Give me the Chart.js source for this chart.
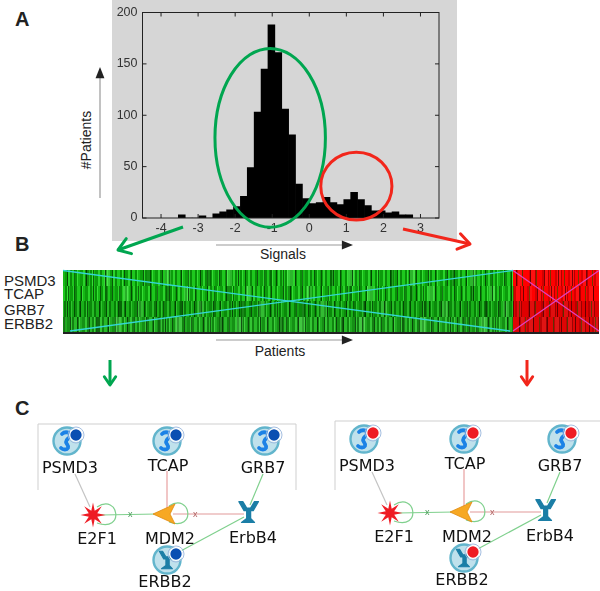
<!DOCTYPE html>
<html>
<head>
<meta charset="utf-8">
<script src="https://cdn.jsdelivr.net/npm/chart.js@4.4.1/dist/chart.umd.min.js"></script>
<style>
body{margin:0;width:600px;height:591px;position:relative;background:#fff;overflow:hidden;font-family:"Liberation Sans",Arial,sans-serif;color:#222}
.abs{position:absolute}
#frame{left:112px;top:0;width:345px;height:241px;background:#d6d6d6}
.letter{font-weight:bold;font-size:20px;color:#222}
.gene{font-size:15px;left:4px;line-height:15px}
#heat{left:63px;top:270px;width:536px;height:62px;border-bottom:2px solid #222}
.row{position:absolute;height:15.5px}
.g{left:0;width:450px}
.r{left:450px;width:86px}
.g{background:
 repeating-linear-gradient(90deg,transparent 0 4px,rgba(0,45,0,.75) 4px 5px,transparent 5px 11px,rgba(0,30,0,.55) 11px 12px,transparent 12px 19px),
 repeating-linear-gradient(90deg,transparent 0 23px,rgba(0,40,0,.35) 23px 26px,transparent 26px 41px,rgba(140,255,140,.25) 41px 47px,transparent 47px 61px),
 repeating-linear-gradient(90deg,#16b816 0 2px,#0c9c0c 2px 5px,#2bd42b 5px 7px,#0a8a0a 7px 9px,#1ec81e 9px 12px,#079107 12px 14px,#35df35 14px 15px)}
.r{background:
 repeating-linear-gradient(90deg,transparent 0 3px,rgba(60,0,0,.7) 3px 4px,transparent 4px 9px,rgba(30,90,0,.6) 9px 10px,transparent 10px 14px),
 repeating-linear-gradient(90deg,#ff0000 0 3px,#d40000 3px 5px,#ff1010 5px 9px,#b00000 9px 10px,#ff0000 10px 13px)}
.row1{top:0}.row2{top:15.5px;background-position:7px 0,19px 0,5px 0}
.row3{top:31px;background-position:13px 0,33px 0,9px 0;filter:brightness(.88)}
.row4{top:46.5px;background-position:3px 0,11px 0,2px 0;filter:brightness(.95) saturate(.9)}
.lbl{font-size:14px;color:#222}
</style>
</head>
<body>
<div class="abs letter" style="left:15px;top:8px">A</div>
<div class="abs letter" style="left:15px;top:233px">B</div>
<div class="abs letter" style="left:15px;top:397px">C</div>

<div id="frame" class="abs"><canvas id="hist"></canvas></div>

<div class="abs lbl" style="left:56px;top:132px;width:60px;text-align:center;transform:rotate(-90deg);transform-origin:30px 8px">#Patients</div>
<div class="abs lbl" style="left:243px;top:246px;width:80px;text-align:center">Signals</div>
<div class="abs lbl" style="left:240px;top:343px;width:80px;text-align:center">Patients</div>

<div class="abs gene" style="top:273px">PSMD3</div>
<div class="abs gene" style="top:286px">TCAP</div>
<div class="abs gene" style="top:302px">GRB7</div>
<div class="abs gene" style="top:316px">ERBB2</div>

<div id="heat" class="abs">
  <div class="row g row1"></div><div class="row g row2"></div><div class="row g row3"></div><div class="row g row4"></div>
  <div class="row r row1"></div><div class="row r row2"></div><div class="row r row3"></div><div class="row r row4"></div>
</div>

<svg id="over" class="abs" style="left:0;top:0" width="600" height="591"></svg>

<script>
// histogram of signals (bin centres, counts)
const binCenters = [-3.440, -3.254, -3.068, -2.882, -2.696, -2.510, -2.324, -2.138, -1.952, -1.766,
                    -1.580, -1.394, -1.208, -1.022, -0.836, -0.650, -0.464, -0.278, -0.092, 0.094,
                    0.280, 0.466, 0.652, 0.838, 1.024, 1.210, 1.396, 1.582, 1.768, 1.954,
                    2.140, 2.326, 2.512, 2.698];
const patientCounts = [3, 0, 0, 2, 0, 4, 6, 8, 11, 21,
                       49, 103, 145, 188, 161, 106, 81, 33, 19, 14,
                       15, 20, 15, 13, 18, 25, 18, 12, 7, 7,
                       5, 6, 3, 3];
const xTicks = [-4, -3, -2, -1, 0, 1, 2, 3];
const yTicks = [0, 50, 100, 150, 200];
// clusters circled on the histogram: [centre x, centre y, half width, half height] in data units
const greenCluster = [-1.055, 78, 1.49, 87];
const redCluster = [1.27, 31, 0.96, 33];

const boxPlugin = {
  id: 'box',
  afterDraw(chart) {
    const ctx = chart.ctx, a = chart.chartArea;
    const xs = chart.scales.x, ys = chart.scales.y;
    ctx.save();
    ctx.strokeStyle = '#222';
    ctx.lineWidth = 1;
    ctx.strokeRect(a.left, a.top, a.right - a.left, a.bottom - a.top);
    ctx.beginPath();
    xTicks.forEach(v => {
      const p = xs.getPixelForValue(v);
      ctx.moveTo(p, a.bottom); ctx.lineTo(p, a.bottom - 4);
      ctx.moveTo(p, a.top); ctx.lineTo(p, a.top + 4);
    });
    yTicks.forEach(v => {
      const p = ys.getPixelForValue(v);
      ctx.moveTo(a.left, p); ctx.lineTo(a.left + 4, p);
      ctx.moveTo(a.right, p); ctx.lineTo(a.right - 4, p);
    });
    ctx.stroke();
    const ring = (c, col) => {
      const cx = xs.getPixelForValue(c[0]), cy = ys.getPixelForValue(c[1]);
      const rx = xs.getPixelForValue(c[0] + c[2]) - cx;
      const ry = cy - ys.getPixelForValue(c[1] + c[3]);
      ctx.beginPath();
      ctx.ellipse(cx, cy, rx, ry, 0, 0, Math.PI * 2);
      ctx.strokeStyle = col;
      ctx.lineWidth = 3;
      ctx.stroke();
    };
    ring(greenCluster, '#00a650');
    ring(redCluster, '#f2261b');
    ctx.restore();
  }
};

new Chart(document.getElementById('hist'), {
  type: 'bar',
  data: {
    datasets: [{
      data: binCenters.map((x, i) => ({x: x, y: patientCounts[i]})),
      backgroundColor: '#000',
      borderWidth: 0,
      barPercentage: 1,
      categoryPercentage: 1
    }]
  },
  options: {
    responsive: true,
    maintainAspectRatio: false,
    animation: false,
    layout: {padding: {top: 12, right: 18, left: 0, bottom: 0}},
    plugins: {legend: {display: false}, tooltip: {enabled: false}},
    scales: {
      x: {
        type: 'linear', min: -4, max: 3,
        afterBuildTicks: s => { s.ticks = xTicks.map(v => ({value: v})); },
        afterFit: s => { s.height = 23; },
        grid: {display: false, drawTicks: false}, border: {display: false},
        ticks: {color: '#333', font: {size: 12.5, family: 'Liberation Sans'}, padding: 3, maxRotation: 0}
      },
      y: {
        min: 0, max: 200,
        afterBuildTicks: s => { s.ticks = yTicks.map(v => ({value: v})); },
        afterFit: s => { s.width = 30.5; },
        grid: {display: false, drawTicks: false}, border: {display: false},
        ticks: {color: '#333', font: {size: 12.5, family: 'Liberation Sans'}, padding: 5}
      }
    }
  },
  plugins: [boxPlugin]
});

// overlay: arrows, heatmap crosses, networks
const svg = document.getElementById('over');
let s = '';
const line = (x1, y1, x2, y2, col, w) =>
  `<line x1="${x1}" y1="${y1}" x2="${x2}" y2="${y2}" stroke="${col}" stroke-width="${w}"/>`;
function chevron(x1, y1, x2, y2, col, w, len) {
  const a = Math.atan2(y2 - y1, x2 - x1), d = 0.6;
  const p1 = [x2 - len * Math.cos(a - d), y2 - len * Math.sin(a - d)];
  const p2 = [x2 - len * Math.cos(a + d), y2 - len * Math.sin(a + d)];
  return line(x1, y1, x2, y2, col, w) +
    `<polyline points="${p1} ${x2},${y2} ${p2}" fill="none" stroke="${col}" stroke-width="${w}" stroke-linecap="round" stroke-linejoin="round"/>`;
}
function pointer(x1, y1, x2, y2) {
  const a = Math.atan2(y2 - y1, x2 - x1), L = 12, d = 0.38;
  const p1 = [x2 - L * Math.cos(a - d), y2 - L * Math.sin(a - d)];
  const p2 = [x2 - L * Math.cos(a + d), y2 - L * Math.sin(a + d)];
  return line(x1, y1, x2 - 8 * Math.cos(a), y2 - 8 * Math.sin(a), '#999', 1.2) +
    `<polygon points="${p1} ${x2},${y2} ${p2}" fill="#222"/>`;
}
s += pointer(100, 198, 100, 67);
s += pointer(216, 245, 353, 245);
s += pointer(216, 340, 353, 340);
s += chevron(183, 227, 118, 250, '#00a650', 3, 14);
s += chevron(403, 229, 470, 244, '#f2261b', 3, 14);
s += chevron(110, 360, 110, 385, '#00a650', 3, 10);
s += chevron(527, 360, 527, 385, '#f2261b', 3, 10);

// heatmap crosses
s += line(63, 270.5, 510, 331, '#33d6d6', 1.3) + line(70, 331, 513, 270.5, '#33d6d6', 1.3);
s += line(513, 270.5, 599, 331, '#e040c0', 1.3) + line(513, 331, 599, 270.5, '#e040c0', 1.3);

function dotMark(x, y, dot) {
  return `<circle cx="${x+9}" cy="${y-6}" r="8" fill="none" stroke="#9ab7dc" stroke-width="0.9"/>` +
    `<circle cx="${x+9}" cy="${y-6}" r="6.3" fill="${dot}" stroke="#fff" stroke-width="1.3"/>`;
}
function protein(x, y, dot) {
  return `<circle cx="${x}" cy="${y}" r="13.5" fill="#bfe1ec" stroke="#62b5cc" stroke-width="2.4"/>` +
    `<path d="M${x-5},${y-7} c3,-3 9,-2 8,2 c-1,3 -4,3 -4,6 c0,2 3,3 2,6 c-1,2 -5,2 -7,0" fill="none" stroke="#1c82e6" stroke-width="3.8" stroke-linecap="round" stroke-linejoin="round"/>` +
    dotMark(x, y, dot);
}
function receptor(x, y, col, k) {
  return `<g transform="translate(${x},${y}) scale(${k})"><path d="M-7,-8 l4,7 l2,0 l0,6 l-4,3 l10,0 l-3,-3 l0,-6 l2,0 l4,-7 l-3,0 l-3,5 l-3,0 l-3,-5 z" fill="${col}" stroke="${col}" stroke-width="1" stroke-linejoin="round"/></g>`;
}
function star(x, y) {
  let p = [];
  for (let i = 0; i < 16; i++) {
    const r = i % 2 ? 4.5 : 12.5, a = i * Math.PI / 8 - Math.PI / 2;
    p.push((x + r * Math.cos(a)).toFixed(1) + ',' + (y + r * Math.sin(a)).toFixed(1));
  }
  return `<polygon points="${p.join(' ')}" fill="#ee1c24"/>`;
}
function text(x, y, t) {
  return `<text x="${x}" y="${y}" text-anchor="middle" font-family="DejaVu Sans" font-size="16" fill="#111">${t}</text>`;
}
function network(dx, dy, dot, boxRight, boxTop) {
  const P = (x, y) => [x + dx, y + dy];
  const [ps, tc, gr, e2, md, eb, er] =
    [P(67, 441), P(167, 441), P(265, 441), P(93, 515), P(165, 514), P(248, 512), P(167, 560)];
  let o = '';
  o += line(dx + 38, boxTop, boxRight, boxTop, '#cfcfcf', 1) + line(dx + 38, boxTop, dx + 38, 490, '#cfcfcf', 1);
  if (boxRight < 600) o += line(boxRight, boxTop, boxRight, 490, '#cfcfcf', 1);
  o += line(ps[0] + 8, ps[1] + 33, e2[0] - 3, e2[1] - 8, '#c4c4c4', 1.2);
  o += line(tc[0], tc[1] + 30, md[0] + 2, md[1] - 6, '#e8a0a0', 1.2);
  o += line(gr[0] - 2, gr[1] + 33, eb[0] + 2, eb[1] - 7, '#7fd08d', 1.2);
  o += line(eb[0] - 4, eb[1] + 2, md[0] + 8, md[1], '#e19a9a', 1.2);
  o += line(md[0] - 8, md[1], e2[0] + 8, e2[1], '#7fd08d', 1.2);
  o += line(er[0] + 10, er[1] - 7, eb[0] - 4, eb[1] + 5, '#7fd08d', 1.2);
  o += `<path d="M${e2[0]+4},${e2[1]-8} C${e2[0]+26},${e2[1]-22} ${e2[0]+32},${e2[1]+18} ${e2[0]+4},${e2[1]+8}" fill="none" stroke="#7fd08d" stroke-width="1.2"/>`;
  o += `<path d="M${md[0]+4},${md[1]-8} C${md[0]+26},${md[1]-22} ${md[0]+32},${md[1]+18} ${md[0]+4},${md[1]+8}" fill="none" stroke="#7fd08d" stroke-width="1.2"/>`;
  o += `<text x="${md[0]-37}" y="${md[1]+3}" font-size="9" fill="#4a9a5a">x</text><text x="${md[0]+28}" y="${md[1]+3}" font-size="9" fill="#b06060">x</text>`;
  o += protein(ps[0], ps[1], dot) + protein(tc[0], tc[1], dot) + protein(gr[0], gr[1], dot);
  o += `<circle cx="${er[0]}" cy="${er[1]}" r="13.5" fill="#bfe1ec" stroke="#62b5cc" stroke-width="2.4"/>` +
    receptor(er[0], er[1], '#1b7ea6', 1.1) + dotMark(er[0], er[1], dot);
  o += star(e2[0], e2[1]);
  o += `<polygon points="${md[0]-12},${md[1]} ${md[0]+10},${md[1]-10} ${md[0]+5},${md[1]} ${md[0]+10},${md[1]+10}" fill="#f7a823" stroke="#e08a10" stroke-width="0.8"/>`;
  o += receptor(eb[0], eb[1], '#1b7ea6', 1.3);
  o += text(ps[0] + 3, ps[1] + 32, 'PSMD3') + text(tc[0] + 1, tc[1] + 30, 'TCAP') + text(gr[0] - 2, gr[1] + 32, 'GRB7');
  o += text(e2[0] + 4, e2[1] + 29, 'E2F1') + text(md[0] + 5, md[1] + 30, 'MDM2') + text(eb[0] + 5, eb[1] + 31, 'ErbB4');
  o += text(er[0] - 2, er[1] + 27, 'ERBB2');
  return o;
}
s += network(0, 0, '#0a4fb2', 296, 424);
s += network(297, -2, '#ee1c24', 600, 421);
svg.innerHTML = s;
</script>
</body>
</html>
